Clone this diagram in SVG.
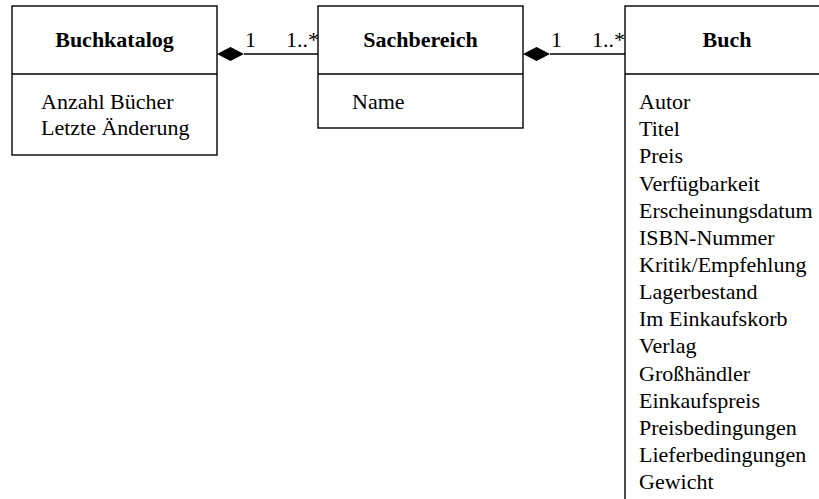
<svg xmlns="http://www.w3.org/2000/svg" width="819" height="499" viewBox="0 0 819 499">
<style>
.box{fill:#fff;stroke:#000;stroke-width:1.4}
.t{font-family:"Liberation Serif","Times New Roman",serif;font-size:22px;fill:#000}
.b{font-weight:bold;text-anchor:middle}
.ln{stroke:#000;stroke-width:1.4;fill:none}
.dia{fill:#000;stroke:none}
</style>
<rect width="819" height="499" fill="#fff"/>
<g id="buchkatalog">
<rect class="box" x="12" y="6" width="205" height="149"/>
<line class="ln" x1="12" y1="74" x2="217" y2="74"/>
<text class="t b" x="114.5" y="47">Buchkatalog</text>
<text class="t" x="41" y="109">Anzahl Bücher</text>
<text class="t" x="41" y="135">Letzte Änderung</text>
</g>
<g id="sachbereich">
<rect class="box" x="318" y="6" width="205" height="122"/>
<line class="ln" x1="318" y1="74" x2="523" y2="74"/>
<text class="t b" x="420.5" y="47">Sachbereich</text>
<text class="t" x="352" y="109">Name</text>
</g>
<g id="buch">
<rect class="box" x="625" y="6" width="205" height="510"/>
<line class="ln" x1="625" y1="74" x2="830" y2="74"/>
<text class="t b" x="727" y="47">Buch</text>
<text class="t" x="639" y="109">Autor</text>
<text class="t" x="639" y="136.2">Titel</text>
<text class="t" x="639" y="163.3">Preis</text>
<text class="t" x="639" y="190.5">Verfügbarkeit</text>
<text class="t" x="639" y="217.6">Erscheinungsdatum</text>
<text class="t" x="639" y="244.8">ISBN-Nummer</text>
<text class="t" x="639" y="271.9">Kritik/Empfehlung</text>
<text class="t" x="639" y="299.1">Lagerbestand</text>
<text class="t" x="639" y="326.2">Im Einkaufskorb</text>
<text class="t" x="639" y="353.4">Verlag</text>
<text class="t" x="639" y="380.5">Großhändler</text>
<text class="t" x="639" y="407.7">Einkaufspreis</text>
<text class="t" x="639" y="434.8">Preisbedingungen</text>
<text class="t" x="639" y="462">Lieferbedingungen</text>
<text class="t" x="639" y="489">Gewicht</text>
</g>
<g id="connectors">
<line class="ln" x1="244" y1="54" x2="318" y2="54"/>
<polygon class="dia" points="217,54 230.5,47 244,54 230.5,61"/>
<text class="t" x="245" y="47">1</text>
<text class="t" x="286" y="47">1..*</text>
<line class="ln" x1="550" y1="54" x2="625" y2="54"/>
<polygon class="dia" points="523,54 536.5,47 550,54 536.5,61"/>
<text class="t" x="551" y="47">1</text>
<text class="t" x="592" y="47">1..*</text>
</g>
</svg>
